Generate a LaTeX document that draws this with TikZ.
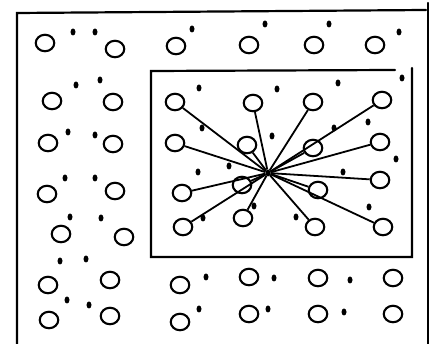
\documentclass[tikz,border=0pt]{standalone}
\usetikzlibrary{shapes.geometric}
\begin{document}
\begin{tikzpicture}[x=1pt,y=-1pt,
  atom/.style={ellipse,draw,line width=2.1pt,minimum width=18.5pt,minimum height=16.5pt,inner sep=0pt,fill=white},
  ion/.style={ellipse,fill=black,minimum width=5pt,minimum height=7pt,inner sep=0pt},
  bond/.style={line width=1.8pt},
  wall/.style={line width=2.2pt,line cap=round}]
\useasboundingbox (0,0) rectangle (432,344);
\fill[white] (0,0) rectangle (432,344);
% outer box
\coordinate (ob1) at (17,344);
\coordinate (ot1) at (17,13);
\coordinate (ot2) at (426,10);
\coordinate (or1) at (428,3);
\coordinate (or2) at (428,344);
\draw[wall] (ob1) -- (ot1) -- (ot2);
\draw[wall] (or1) -- (or2);
% inner box
\coordinate (i1) at (395,70);
\coordinate (i2) at (151,71);
\coordinate (i3) at (151,257);
\coordinate (i4) at (412,257);
\coordinate (i5) at (412,68);
\draw[wall] (i1) -- (i2) -- (i3) -- (i4) -- (i5);
% outer atoms
\foreach \n/\x/\y in {o1/45/43, o2/115/49, o3/176/46, o4/249/45, o5/314/45, o6/375/45,
  o7/52/101, o8/113/102, o9/48/143, o10/113/144, o11/47/194, o12/115/191,
  o13/61/234, o14/124/237, o15/48/285, o16/110/280, o17/180/285, o18/249/277,
  o19/318/278, o20/393/278, o21/49/320, o22/110/316, o23/180/322, o24/249/314,
  o25/318/314, o26/393/314}
  \node[atom] (\n) at (\x,\y) {};
% outer ions
\foreach \n/\x/\y in {e1/73/32, e2/95/32, e3/192/29, e4/265/24, e5/329/24, e6/399/32,
  e7/76/85, e8/100/80, e9/68/132, e10/95/135, e11/65/178, e12/95/178,
  e13/70/217, e14/101/218, e15/60/261, e16/86/259, e17/206/277, e18/274/278,
  e19/350/280, e20/67/300, e21/89/305, e22/199/309, e23/268/309, e24/344/312}
  \node[ion] (\n) at (\x,\y) {};
% inner ions
\foreach \n/\x/\y in {f1/199/88, f2/277/89, f3/338/83, f4/402/78, f5/202/128, f6/272/136,
  f7/334/128, f8/368/122, f9/198/172, f10/229/166, f11/343/172, f12/396/159,
  f13/203/218, f14/254/206, f15/296/217, f16/369/207}
  \node[ion] (\n) at (\x,\y) {};
% central ion
\node[ion] (h) at (268,173) {};
% inner atoms and bonds
\foreach \n/\x/\y in {c1/175/102, c2/253/103, c3/313/102, c4/382/100,
  c5/175/143, c6/247/145, c7/313/148, c8/380/142,
  c9/242/185, c10/182/193, c11/318/190, c12/380/180,
  c13/183/227, c14/243/218, c15/315/227, c16/383/227}
  \node[atom] (\n) at (\x,\y) {};
\foreach \n in {c1,c2,c3,c4,c5,c6,c7,c8,c9,c10,c11,c12,c13,c14,c15,c16}
  \draw[bond] (h) -- (\n);
\end{tikzpicture}
\end{document}
